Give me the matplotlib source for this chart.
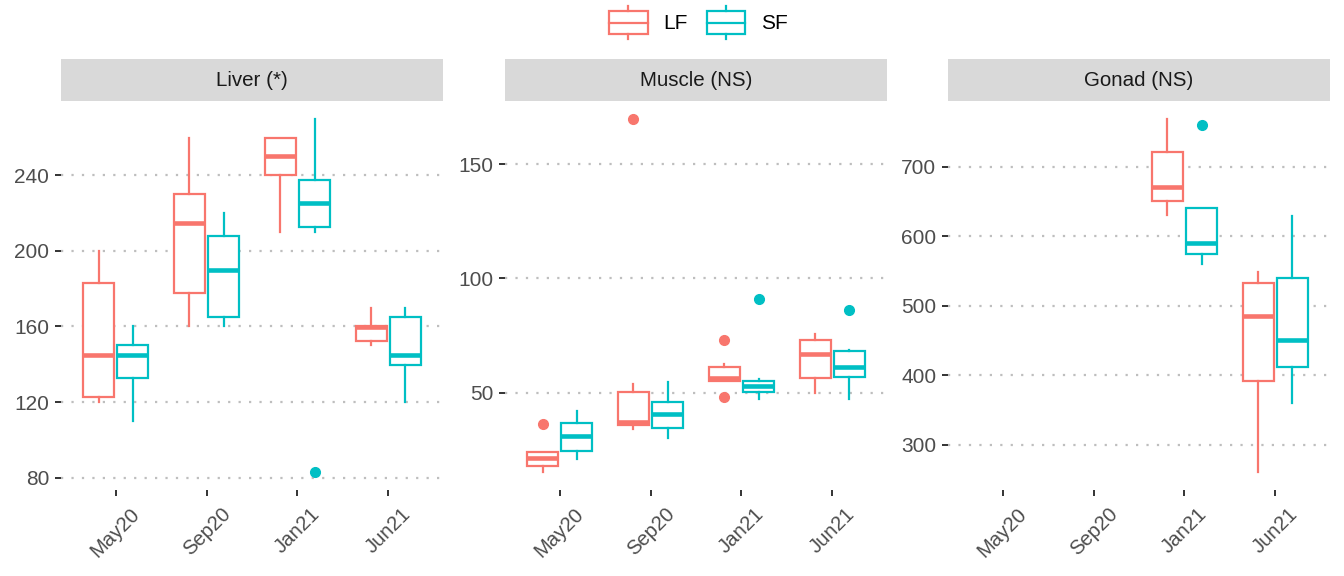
#!/usr/bin/env python3
import matplotlib

matplotlib.use("Agg")
import matplotlib.pyplot as plt
from matplotlib.legend_handler import HandlerBase
from matplotlib.lines import Line2D
from matplotlib.patches import Rectangle

plt.rcParams["font.family"] = ["Liberation Sans", "DejaVu Sans"]

months = ["May20", "Sep20", "Jan21", "Jun21"]
groups = ["LF", "SF"]
colors = {"LF": "#F8766D", "SF": "#00BFC4"}
tissues = ["Liver (*)", "Muscle (NS)", "Gonad (NS)"]

# five-number summaries per month: (whisker low, q1, median, q3, whisker high)
liver_lf = [(120, 122.6, 145, 182.8, 200), (160, 177.6, 215, 230, 260),
            (210, 240, 250, 260, 260), (150, 152.4, 159.6, 160.5, 170)]
liver_sf = [(110, 132.6, 145, 150.1, 160), (160, 164.8, 190, 207.9, 220),
            (210, 212.6, 225.2, 237.7, 270), (120, 139.8, 145, 165, 170)]
liver_lf_out = [[], [], [], []]
liver_sf_out = [[], [], [82.8], []]

muscle_lf = [(15.3, 18.2, 21.5, 24.1, 24.1), (34.3, 36, 37.3, 50.3, 53.8),
             (55.4, 55.4, 56.4, 61.5, 62.7), (50.1, 56.7, 67.1, 72.9, 75.7)]
muscle_sf = [(21, 24.8, 31, 36.9, 42), (30.2, 34.8, 40.7, 46.2, 54.7),
             (47.4, 50.3, 53.2, 55.4, 56), (47.4, 57.1, 61.5, 68.1, 68.8)]
muscle_lf_out = [[36.3], [169.8], [73.2, 48.1], []]
muscle_sf_out = [[], [], [91], [86]]

gonad_lf = [None, None, (630.7, 650, 670, 720.8, 768.8), (260.5, 392.2, 485, 532.6, 549)]
gonad_sf = [None, None, (560.6, 575, 590, 640.4, 640.4), (360.5, 412.4, 450, 539.4, 629.3)]
gonad_lf_out = [[], [], [], []]
gonad_sf_out = [[], [], [760], []]

liver_ticks = [80, 120, 160, 200, 240]
muscle_ticks = [50, 100, 150]
gonad_ticks = [300, 400, 500, 600, 700]


class BoxKey(HandlerBase):
    # ggplot-like boxplot key: box, median line and two whisker stubs
    def create_artists(self, legend, orig_handle, xdescent, ydescent,
                       width, height, fontsize, trans):
        c = orig_handle.get_color()
        x0, y0 = -xdescent, -ydescent
        box_lo, box_hi = y0 + 0.15 * height, y0 + 0.85 * height
        xm = x0 + width / 2
        return [
            Rectangle((x0, box_lo), width, box_hi - box_lo, facecolor="white",
                      edgecolor=c, lw=1.6, transform=trans),
            Line2D([x0, x0 + width], [(box_lo + box_hi) / 2] * 2, color=c, lw=1.6, transform=trans),
            Line2D([xm, xm], [y0, box_lo], color=c, lw=1.6, transform=trans),
            Line2D([xm, xm], [box_hi, y0 + height], color=c, lw=1.6, transform=trans),
        ]


def draw_panel(ax, title, lf, sf, lf_out, sf_out, ticks):
    vals = []
    for grp, stats, outs, off in (("LF", lf, lf_out, -0.1875), ("SF", sf, sf_out, 0.1875)):
        bxp_stats = []
        pos = []
        for i, s in enumerate(stats):
            if s is None:
                continue
            lo, q1, med, q3, hi = s
            bxp_stats.append({"whislo": lo, "q1": q1, "med": med, "q3": q3,
                              "whishi": hi, "fliers": outs[i]})
            pos.append(i + 1 + off)
            vals += [lo, hi] + list(outs[i])
        c = colors[grp]
        ax.bxp(bxp_stats, positions=pos, widths=0.3375, showcaps=False,
               patch_artist=True, manage_ticks=False,
               boxprops=dict(facecolor="white", edgecolor=c, lw=1.6),
               whiskerprops=dict(color=c, lw=1.6),
               medianprops=dict(color=c, lw=3.3, solid_capstyle="butt"),
               flierprops=dict(marker="o", markerfacecolor=c, markeredgecolor=c,
                               markersize=7))
    lo, hi = min(vals), max(vals)
    pad = (hi - lo) * 0.05
    ax.set_ylim(lo - pad, hi + pad)
    ax.set_xlim(0.4, 4.6)
    ax.set_yticks(ticks)
    ax.set_xticks(range(1, len(months) + 1))
    ax.set_xticklabels(months, rotation=45, ha="center")
    ax.yaxis.grid(True, color="#BEBEBE", lw=1.6, linestyle=(0, (1, 3.7)))
    ax.set_axisbelow(True)
    for sp in ax.spines.values():
        sp.set_visible(False)
    ax.tick_params(axis="both", length=4.5, width=1.4, color="#333333",
                   labelcolor="#4D4D4D", labelsize=15)
    ax.tick_params(axis="x", pad=6, labelsize=14.6)
    ax.tick_params(axis="y", pad=4)
    ax.add_patch(Rectangle((0, 1), 1, 42 / 389, transform=ax.transAxes,
                           facecolor="#D9D9D9", edgecolor="none", clip_on=False))
    ax.text(0.5, 1 + 20 / 389, title, transform=ax.transAxes, ha="center",
            va="center", fontsize=14.8, color="#1A1A1A")


fig = plt.figure(figsize=(13.44, 5.76), dpi=100)
W, H = 1344, 576
lefts = [61, 505, 948]
panels = [
    (liver_lf, liver_sf, liver_lf_out, liver_sf_out, liver_ticks),
    (muscle_lf, muscle_sf, muscle_lf_out, muscle_sf_out, muscle_ticks),
    (gonad_lf, gonad_sf, gonad_lf_out, gonad_sf_out, gonad_ticks),
]
for left, title, (lf, sf, lfo, sfo, ticks) in zip(lefts, tissues, panels):
    ax = fig.add_axes([left / W, 1 - 490 / H, 382 / W, 389 / H])
    draw_panel(ax, title, lf, sf, lfo, sfo, ticks)

handles = [Line2D([], [], color=colors[g]) for g in groups]
fig.legend(handles, groups, loc="center", bbox_to_anchor=(698.5 / W, 1 - 22.5 / H),
           ncol=2, frameon=False, fontsize=15, handler_map={Line2D: BoxKey()},
           handlelength=1.83, handleheight=2.0, columnspacing=0.9, handletextpad=0.77)

fig.savefig("out.png", dpi=100)
